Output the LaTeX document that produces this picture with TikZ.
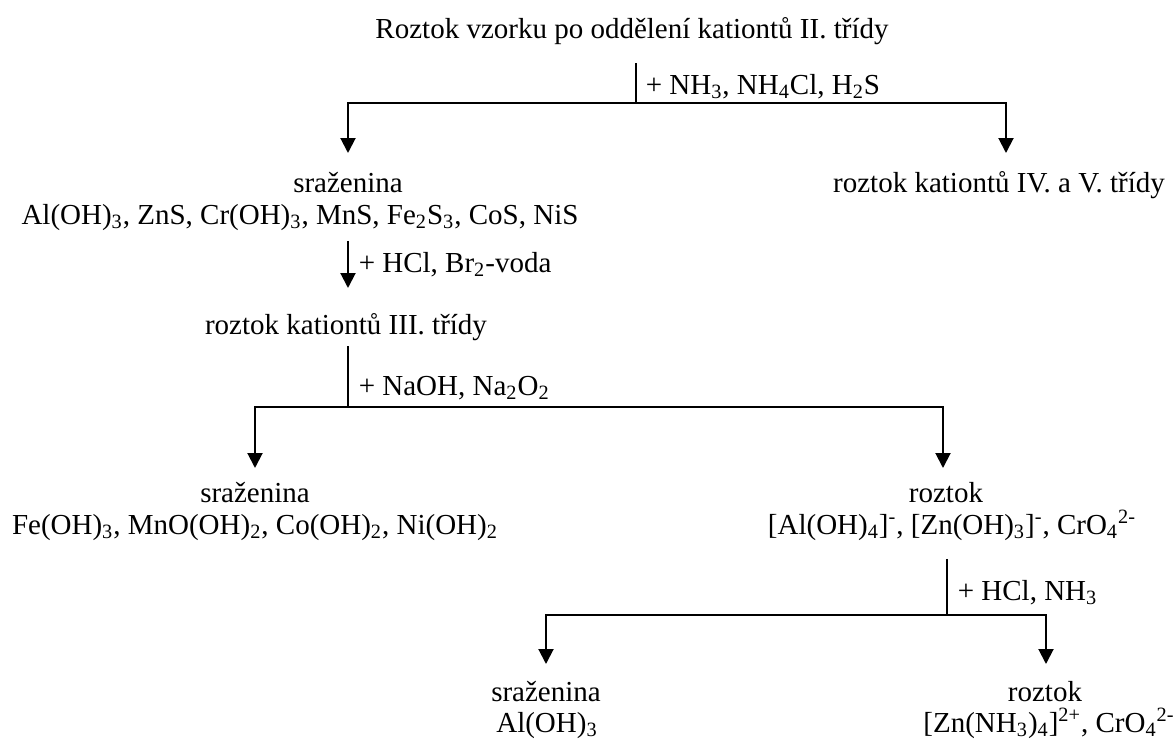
\documentclass[tikz,border=0pt]{standalone}
\usepackage{fontspec}
\setmainfont{Liberation Serif}
\usetikzlibrary{arrows.meta}
\tikzset{
 txt/.style={inner sep=0pt,anchor=base,font=\fontsize{14.5}{16}\selectfont},
 chem/.style={txt,anchor=base west},
 arr/.style={-{Triangle[width=7.5pt,length=7.5pt]},line width=1pt},
}
\begin{document}
\begin{tikzpicture}[x=0.5pt,y=-0.5pt,line width=0.8pt]
 \useasboundingbox (0,0) rectangle (1175,740);
 % vychozi roztok
 \node[txt] (vz) at (632,38) {Roztok vzorku po oddělení kationtů II. třídy};
 \coordinate (j1) at (636,103);
 \draw[shorten <=9pt] (vz.south -| j1) -- (j1);
 \node[chem] (c1) at (645,94) {+ NH\textsubscript{3}, NH\textsubscript{4}Cl, H\textsubscript{2}S};
 % II. stupen
 \node[txt] (sr1) at (348,192) {sraženina};
 \node[txt] (sr1f) at (300,224) {Al(OH)\textsubscript{3}, ZnS, Cr(OH)\textsubscript{3}, MnS, Fe\textsubscript{2}S\textsubscript{3}, CoS, NiS};
 \node[txt] (iv) at (999,192) {roztok kationtů IV. a V. třídy};
 \coordinate (t1) at (348,153);
 \coordinate (t2) at (1006,153);
 \draw[arr] (j1) -| (t1);
 \draw[arr] (j1) -| (t2);
 \coordinate (t3) at (348,288);
 \draw[arr,shorten <=5pt] (sr1f.south -| t3) -- (t3);
 \node[chem] (c2) at (358,272) {+ HCl, Br\textsubscript{2}-voda};
 \node[txt] (iii) at (346,334) {roztok kationtů III. třídy};
 % III. stupen
 \coordinate (j2) at (348,407);
 \draw[shorten <=2.5pt] (iii.south -| j2) -- (j2);
 \node[chem] (c3) at (358,395) {+ NaOH, Na\textsubscript{2}O\textsubscript{2}};
 \coordinate (t4) at (255,468);
 \coordinate (t5) at (943,468);
 \draw[arr] (j2) -| (t4);
 \draw[arr] (j2) -| (t5);
 \node[txt] (sr2) at (255,502) {sraženina};
 \node[txt] (sr2f) at (255,534) {Fe(OH)\textsubscript{3}, MnO(OH)\textsubscript{2}, Co(OH)\textsubscript{2}, Ni(OH)\textsubscript{2}};
 \node[txt] (ro2) at (946,502) {roztok};
 \node[txt] (ro2f) at (952,534) {[Al(OH)\textsubscript{4}]\textsuperscript{-}, [Zn(OH)\textsubscript{3}]\textsuperscript{-}, CrO\textsubscript{4}\textsuperscript{2-}};
 % IV. stupen
 \coordinate (j3) at (947,615);
 \draw[shorten <=9pt] (ro2f.south -| j3) -- (j3);
 \node[chem] (c4) at (957,600) {+ HCl, NH\textsubscript{3}};
 \coordinate (t6) at (546,664);
 \coordinate (t7) at (1046,664);
 \draw[arr] (j3) -| (t6);
 \draw[arr] (j3) -| (t7);
 \node[txt] (sr3) at (546,701) {sraženina};
 \node[txt] (sr3f) at (547,732) {Al(OH)\textsubscript{3}};
 \node[txt] (ro3) at (1045,701) {roztok};
 \node[txt] (ro3f) at (1049,732) {[Zn(NH\textsubscript{3})\textsubscript{4}]\textsuperscript{2+}, CrO\textsubscript{4}\textsuperscript{2-}};
\end{tikzpicture}
\end{document}
